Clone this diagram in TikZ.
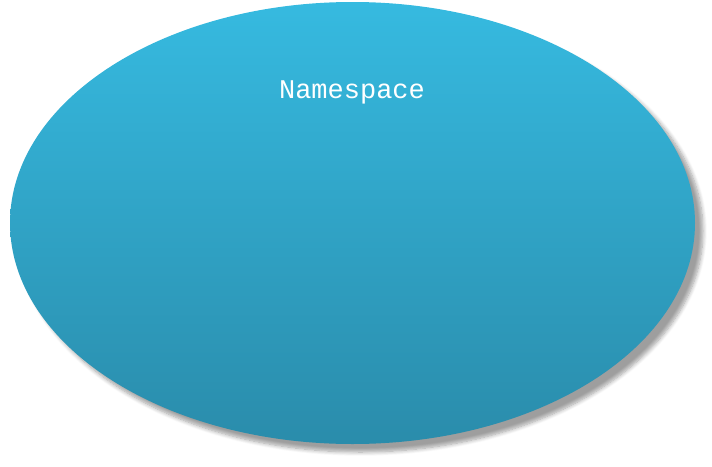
\documentclass[tikz,border=0pt]{standalone}
\usepackage{fontspec}
\usepackage{tikz}
\usetikzlibrary{shapes.geometric,shadows.blur}
\newfontfamily\labelfont{Liberation Mono}
\definecolor{nstop}{HTML}{36BAE0}
\definecolor{nsbottom}{HTML}{2A8CAB}

\begin{document}
\begin{tikzpicture}[x=0.5pt,y=-0.5pt]
    \tikzset{
      space/.style={ellipse,inner sep=0pt,minimum width=342.5pt,minimum height=221pt,top color=nstop,bottom color=nsbottom,
        blur shadow={shadow xshift=4pt,shadow yshift=-4pt,shadow blur radius=2pt,shadow blur steps=8,shadow opacity=38}},
      caption/.style={font=\labelfont\fontsize{13.5}{15}\selectfont,text=white,inner sep=0pt}
    }
    \useasboundingbox (0,0) rectangle (712,466);
    \node[space] (ns) at (352.5,223) {};
    \node[caption] (title) at (352,92) {Namespace};
  \end{tikzpicture}
\end{document}
